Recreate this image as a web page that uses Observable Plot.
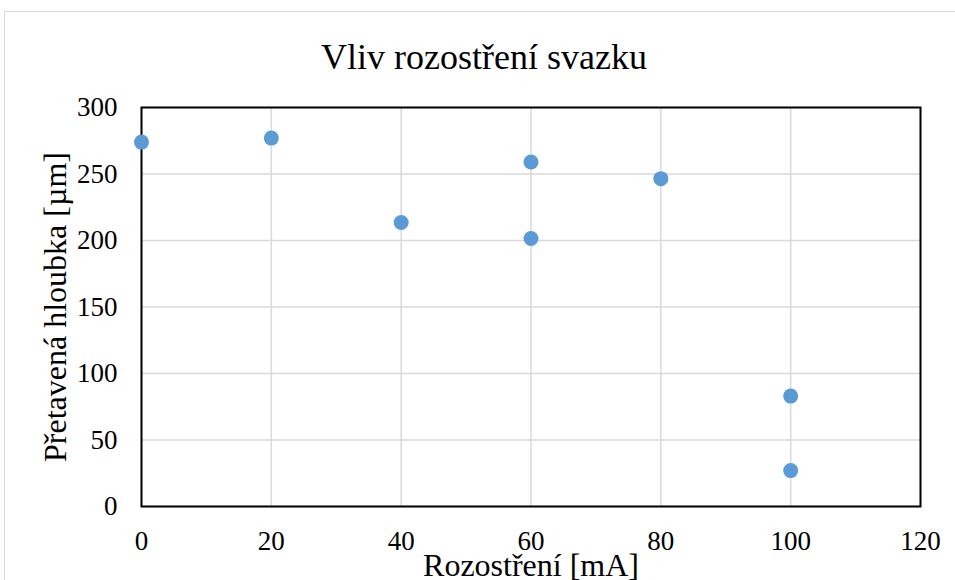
<!DOCTYPE html>
<html>
<head>
<meta charset="utf-8">
<script src="https://cdn.jsdelivr.net/npm/d3@7"></script>
<script src="https://cdn.jsdelivr.net/npm/@observablehq/plot@0.6"></script>
<style>
  html, body { margin: 0; padding: 0; background: #fff; overflow: hidden; width: 955px; height: 580px; }
  #wrap { position: relative; width: 955px; height: 580px; }
  #border { position: absolute; left: 4px; top: 11px; width: 1000px; height: 700px; border: 1px solid #d9d9d9; box-sizing: border-box; }
  #chart { position: absolute; left: 0; top: 0; }
  #chart svg text { font-family: 'Liberation Serif', 'Times New Roman', serif; }
</style>
</head>
<body>
<div id="wrap"><div id="border"></div><div id="chart"></div></div>
<script>
const titleText = "Vliv rozostření svazku";
const xLabel = "Rozostření [mA]";
const yLabel = "Přetavená hloubka [µm]";
const rozostreni = [0, 20, 40, 60, 60, 80, 100, 100];
const hloubka = [274, 277, 213.5, 259, 201.5, 246.5, 83, 27];
const xTicks = [0, 20, 40, 60, 80, 100, 120];
const yTicks = [0, 50, 100, 150, 200, 250, 300];

const data = rozostreni.map((x, i) => ({x, y: hloubka[i]}));
const font = "'Liberation Serif', 'Times New Roman', serif";

const plot = Plot.plot({
  width: 955,
  height: 580,
  marginLeft: 141,
  marginRight: 35,
  marginTop: 107,
  marginBottom: 74,
  style: {fontFamily: font, fontSize: "27px", color: "#000", background: "transparent", overflow: "visible"},
  x: {domain: [0, 120], ticks: xTicks, label: null},
  y: {domain: [0, 300], ticks: yTicks, label: null},
  marks: [
    Plot.gridX(xTicks, {stroke: "#d9d9d9", strokeOpacity: 1, strokeWidth: 1.5}),
    Plot.gridY(yTicks, {stroke: "#d9d9d9", strokeOpacity: 1, strokeWidth: 1.5}),
    Plot.frame({stroke: "#000", strokeWidth: 2}),
    Plot.axisX(xTicks, {tickSize: 0, tickPadding: 24, fontSize: 27, fontFamily: font, fontVariant: "normal", label: null}),
    Plot.axisY(yTicks, {tickSize: 0, tickPadding: 24, fontSize: 27, fontFamily: font, fontVariant: "normal", label: null}),
    Plot.dot(data, {x: "x", y: "y", r: 7.5, fill: "#5B9BD5", stroke: "none"}),
    Plot.text([titleText], {frameAnchor: "top", dx: -47, dy: -39, lineAnchor: "bottom", fontSize: 36, fontFamily: font, fill: "#000"}),
    Plot.text([xLabel], {frameAnchor: "bottom", dy: 69, lineAnchor: "bottom", fontSize: 32, fontFamily: font, fill: "#000"}),
    Plot.text([yLabel], {frameAnchor: "left", dx: -76, rotate: -90, textAnchor: "middle", lineAnchor: "bottom", fontSize: 32, fontFamily: font, fill: "#000"})
  ]
});
document.getElementById("chart").appendChild(plot);
</script>
</body>
</html>
